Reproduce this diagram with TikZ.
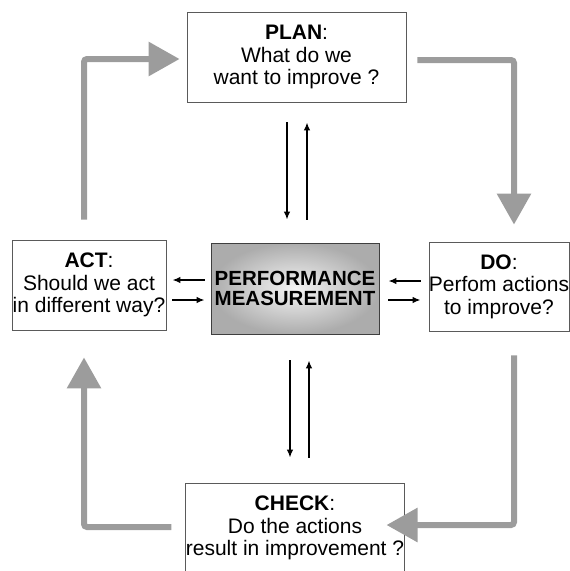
\documentclass[tikz,border=0pt]{standalone}
\usepackage{fontspec}
\setmainfont{Liberation Sans}
\usetikzlibrary{arrows.meta}
\definecolor{cyclegray}{HTML}{9C9C9C}
\definecolor{framegray}{HTML}{5A5A5A}
\begin{document}
\begin{tikzpicture}[x=1pt,y=-1pt,
    box/.style={draw=framegray, line width=0.8pt, align=center, inner sep=0pt,
        font=\fontsize{21}{22.5}\selectfont},
    pmbox/.style={box, draw=framegray!70!black, inner color=gray!8, outer color=gray!65,
        font=\fontsize{20.5}{20.5}\selectfont\bfseries},
    flow/.style={-{Latex[length=8pt,width=6.5pt]}, line width=1.5pt},
    cycle/.style={cyclegray, line width=6pt, rounded corners=3pt,
        -{Triangle[length=31pt,width=33pt]}}]
% Frame
\useasboundingbox (0,0) rectangle (570,571);

% Boxes
\node[box, minimum width=219pt, minimum height=90pt] (plan) at (296.5,57)
    {\textbf{PLAN}:\\What do we\\want to improve ?};
\node[pmbox, minimum width=168pt, minimum height=91pt] (pm) at (295,288.5)
    {PERFORMANCE\\MEASUREMENT};
\node[box, minimum width=138pt, minimum height=89pt] (do) at (499,286.5)
    {\textbf{DO}:\\Perfom actions\\to improve?};
\node[box, minimum width=154pt, minimum height=90pt] (act) at (89,285)
    {\textbf{ACT}:\\Should we act\\in different way?};
\node[box, minimum width=218pt, minimum height=90pt] (check) at (295,528)
    {\textbf{CHECK}:\\Do the actions\\result in improvement ?};

% Measurement arrows
\draw[flow] ([xshift=-9.5pt,yshift=-20pt]plan.south) -- ([xshift=-8pt,yshift=23pt]pm.north);
\draw[flow] ([xshift=12pt,yshift=23pt]pm.north) -- ([xshift=10.5pt,yshift=-20pt]plan.south);
\draw[flow] ([xshift=-5pt,yshift=-26pt]pm.south) -- ([xshift=-5pt,yshift=25pt]check.north);
\draw[flow] ([xshift=14pt,yshift=25pt]check.north) -- ([xshift=14pt,yshift=-26pt]pm.south);
\draw[flow] ([xshift=-6pt,yshift=8.5pt]pm.west) -- ([xshift=6pt,yshift=5pt]act.east);
\draw[flow] ([xshift=6pt,yshift=-15pt]act.east) -- ([xshift=-6pt,yshift=-11.5pt]pm.west);
\draw[flow] ([xshift=-8pt,yshift=5.5pt]do.west) -- ([xshift=9pt,yshift=7.5pt]pm.east);
\draw[flow] ([xshift=9pt,yshift=-11.5pt]pm.east) -- ([xshift=-8pt,yshift=-13.5pt]do.west);

% PDCA cycle
\draw[cycle] ([xshift=-5pt,yshift=20pt]act.north) |- ([xshift=-7pt,yshift=-2pt]plan.west);
\draw[cycle] ([xshift=11pt,yshift=-3pt]plan.east) -| ([xshift=15pt,yshift=17pt]do.north);
\draw[cycle] ([xshift=15pt,yshift=-24pt]do.south) |- ([xshift=-18pt,yshift=3pt]check.east);
\draw[cycle] ([xshift=-14pt,yshift=1pt]check.west) -| ([xshift=-5pt,yshift=-27pt]act.south);
\end{tikzpicture}
\end{document}
